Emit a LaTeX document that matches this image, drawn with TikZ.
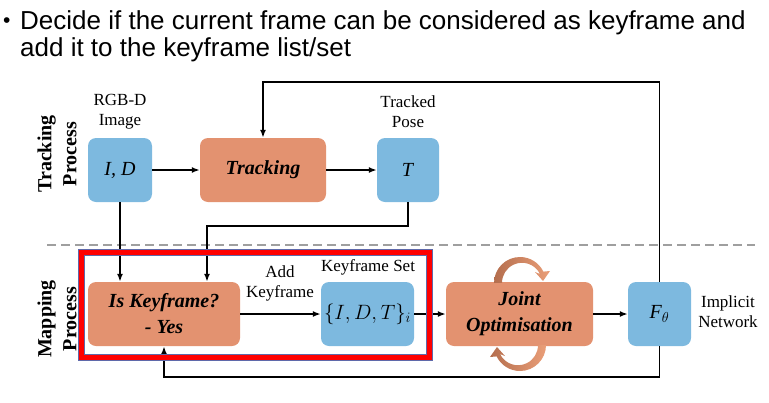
\documentclass[tikz,border=0pt]{standalone}
\usepackage{fontspec}
\setmainfont{Liberation Serif}
\newfontfamily\titlefont{Liberation Sans}
\usetikzlibrary{arrows.meta,positioning}
\definecolor{boxorange}{RGB}{227,146,112}
\definecolor{boxblue}{RGB}{125,185,223}
\definecolor{arcdark}{RGB}{180,110,78}
\definecolor{arclight}{RGB}{234,158,120}
\definecolor{selblue}{RGB}{95,105,170}
\tikzset{
  bluebox/.style={fill=boxblue, rounded corners=8pt, minimum height=64pt, inner sep=0pt,
    font=\fontsize{20}{24}\selectfont},
  orangebox/.style={fill=boxorange, rounded corners=8pt, minimum height=64pt, inner sep=0pt,
    align=center, font=\fontsize{20}{26}\selectfont\bfseries\itshape},
  lbl/.style={inner sep=0pt, align=center, font=\fontsize{17}{20}\selectfont},
  side/.style={inner sep=0pt, align=center, rotate=90, font=\fontsize{20}{25}\selectfont\bfseries},
  arr/.style={-{Latex[length=8pt,width=6pt]}, line width=1.6pt},
}
\begin{document}
\begin{tikzpicture}[x=1pt,y=-1pt]  % ------ pixel grid, y down ------
  \useasboundingbox (0,0) rectangle (769,402);

  % title
  \node[anchor=base west, inner sep=0pt, font=\titlefont\fontsize{21}{21}\selectfont] (bullet) at (3,27.5) {•};
  \node[anchor=base west, inner sep=0pt, font=\titlefont\fontsize{26}{27}\selectfont] (title1) at (20,29)
    {Decide if the current frame can be considered as keyframe and};
  \node[anchor=base west, inner sep=0pt, font=\titlefont\fontsize{26}{27}\selectfont] (title2) at (20,56)
    {add it to the keyframe list/set};

  % tracking row
  \node[bluebox, minimum width=64pt]    (ID)  at (120,170) {\textit{I, D}};
  \node[orangebox, minimum width=126pt] (trk) at (263,170) {Tracking};
  \node[bluebox, minimum width=62pt]    (T)   at (408,170) {\textit{T}};
  \node[lbl] (rgbd)   at (120,112) {RGB-D\\Image};
  \node[lbl] (tpose)  at (408,112) {Tracked\\Pose};
  \node[side] (trkproc) at (57,154) {Tracking\\Process};

  % mapping row
  \node[orangebox, minimum width=152pt] (kf)    at (164,314)   {Is Keyframe?\\- Yes};
  \node[bluebox, minimum width=93pt]    (kfs)   at (367.5,314) {$\{I, D, T\}_i$};
  \node[orangebox, minimum width=147pt] (joint) at (519.5,314) {Joint\\Optimisation};
  \node[bluebox, minimum width=63pt]    (F)     at (659.5,314) {\textit{F}$_\theta$};
  \node[lbl] (kfsl)   at (368,267) {Keyframe Set};
  \node[lbl] (addkf)  at (280,283) {Add\\Keyframe};
  \node[lbl] (implnet) at (728,312) {Implicit\\Network};
  \node[side] (mapproc) at (57,319) {Mapping\\Process};

  \coordinate (sepL) at (47,245);
  \coordinate (sepR) at (755,245);
  \draw[gray!75, line width=1.5pt, dash pattern=on 9pt off 5pt] (sepL) -- (sepR);

  \coordinate (bend)  at (207,226);
  \coordinate (fbtop) at (659.5,82);
  \coordinate (fbbot) at (659.5,377);

  \draw[arr] (ID.east) -- (trk.west);
  \draw[arr] (trk.east) -- (T.west);
  \draw[arr] (ID.south) -- (ID.south |- kf.north);
  \draw[arr] (T.south) |- (bend) -- (bend |- kf.north);
  \draw[arr] (kf.east) -- (kfs.west);
  \draw[arr] (kfs.east) -- (joint.west);
  \draw[arr] (joint.east) -- (F.west);
  \draw[arr] (F.north) -- (fbtop) -| (trk.north);
  \draw[arr] (F.south) -- (fbbot) -| (kf.south);

  % the two turning arrows round the optimisation
  \shade[left color=arcdark, right color=arclight]
    (494,283) arc[start angle=180, end angle=334, radius=26]
    -- (550,271) -- (543,281) -- (535,272) -- (540,274)
    arc[start angle=334, end angle=180, radius=20] -- cycle;
  \shade[left color=arcdark, right color=arclight, rotate around={180:(520,314)}]
    (494,283) arc[start angle=180, end angle=334, radius=26]
    -- (550,271) -- (543,281) -- (535,272) -- (540,274)
    arc[start angle=334, end angle=180, radius=20] -- cycle;

  % highlight
  \draw[red, line width=6pt] (81.3,251.7) rectangle (429.5,357.3);
  \draw[selblue, line width=0.4pt] (78.3,248.7) rectangle (432.5,360.3);
  \draw[selblue, line width=0.4pt] (84.3,254.7) rectangle (426.5,354.3);
\end{tikzpicture}
\end{document}
